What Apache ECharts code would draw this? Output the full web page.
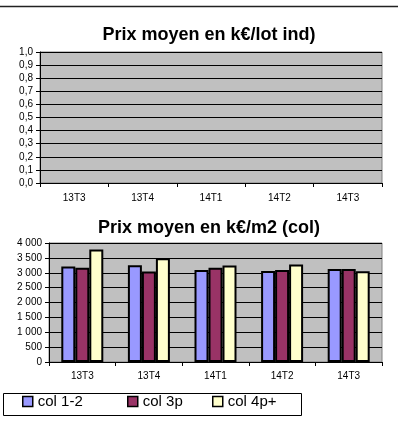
<!DOCTYPE html>
<html>
<head>
<meta charset="utf-8">
<script src="https://cdn.jsdelivr.net/npm/echarts@6/dist/echarts.min.js"></script>
<style>
  html, body { margin: 0; padding: 0; background: #fff; }
  #chart { width: 398px; height: 423px; }
</style>
</head>
<body>
<div id="chart"></div>
<script>
// categories (trimestres)
const categories = ['13T3', '13T4', '14T1', '14T2', '14T3'];
// k€/m2 for the collective housing series
const col12 = [3210, 3250, 3090, 3060, 3130];
const col3p = [3170, 3040, 3170, 3090, 3130];
const col4p = [3780, 3490, 3240, 3280, 3050];
const seriesNames = ['col 1-2', 'col 3p', 'col 4p+'];
const seriesColors = ['#9999ff', '#993366', '#ffffcc'];

const font = 'Liberation Sans, Arial, sans-serif';

const chart = echarts.init(document.getElementById('chart'));

function spaced(v) {
  return String(v).replace(/\B(?=(\d{3})+(?!\d))/g, ' ');
}

const axisText = { color: '#000', fontSize: 10, fontFamily: font };

// one legend per item so the spacing matches the excel box
const legendX = [22, 127, 212];
const legends = seriesNames.map((name, i) => ({
  left: legendX[i], top: 394,
  padding: 0,
  itemWidth: 10, itemHeight: 10,
  icon: 'rect',
  itemStyle: { borderColor: '#000', borderWidth: 1.5 },
  textStyle: { fontSize: 15, color: '#000', fontFamily: font },
  data: [name]
}));

chart.setOption({
  animation: false,
  backgroundColor: '#fff',
  title: [
    {
      text: 'Prix moyen en k€/lot ind)',
      left: 204, top: 21, textAlign: 'center',
      textStyle: { fontSize: 18, fontWeight: 'bold', color: '#000', fontFamily: font }
    },
    {
      text: 'Prix moyen en k€/m2 (col)',
      left: 204, top: 214, textAlign: 'center',
      textStyle: { fontSize: 18, fontWeight: 'bold', color: '#000', fontFamily: font }
    }
  ],
  graphic: [
    { type: 'line', shape: { x1: 0, y1: 6.5, x2: 398, y2: 6.5 }, style: { stroke: '#222', lineWidth: 1.5 } },
    { type: 'rect', shape: { x: 3.5, y: 393.5, width: 298, height: 22 }, style: { fill: 'none', stroke: '#000', lineWidth: 1 }, z: -1 }
  ],
  grid: [
    { left: 40, top: 52, right: 16, height: 131, show: true, backgroundColor: '#c0c0c0', borderColor: '#808080', borderWidth: 1 },
    { left: 49, top: 243, right: 16, height: 119, show: true, backgroundColor: '#c0c0c0', borderColor: '#808080', borderWidth: 1 }
  ],
  xAxis: [
    {
      type: 'category', gridIndex: 0, data: categories,
      axisLine: { lineStyle: { color: '#000', width: 1 } },
      axisTick: { show: true, length: 4, lineStyle: { color: '#000' } },
      axisLabel: Object.assign({ margin: 10 }, axisText)
    },
    {
      type: 'category', gridIndex: 1, data: categories,
      axisLine: { lineStyle: { color: '#000', width: 1 } },
      axisTick: { show: true, length: 4, lineStyle: { color: '#000' } },
      axisLabel: Object.assign({ margin: 9 }, axisText)
    }
  ],
  yAxis: [
    {
      type: 'value', gridIndex: 0, min: 0, max: 1, interval: 0.1,
      axisLine: { show: true, lineStyle: { color: '#000' } },
      axisTick: { show: true, length: 4, lineStyle: { color: '#000' } },
      splitLine: { show: true, lineStyle: { color: '#000', width: 1 } },
      axisLabel: Object.assign({ margin: 7, formatter: v => v.toFixed(1).replace('.', ',') }, axisText)
    },
    {
      type: 'value', gridIndex: 1, min: 0, max: 4000, interval: 500,
      axisLine: { show: true, lineStyle: { color: '#000' } },
      axisTick: { show: true, length: 4, lineStyle: { color: '#000' } },
      splitLine: { show: true, lineStyle: { color: '#000', width: 1 } },
      axisLabel: Object.assign({ margin: 7, formatter: v => spaced(v) }, axisText)
    }
  ],
  legend: legends,
  series: [col12, col3p, col4p].map((vals, i) => ({
    name: seriesNames[i],
    type: 'bar',
    xAxisIndex: 1, yAxisIndex: 1,
    data: vals,
    barWidth: 14,
    barGap: '0%',
    itemStyle: { color: seriesColors[i], borderColor: '#000', borderWidth: 2 }
  }))
});
</script>
</body>
</html>
